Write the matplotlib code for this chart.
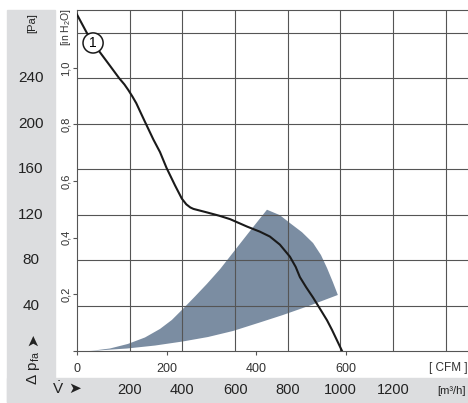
import numpy as np
import matplotlib.pyplot as plt
import matplotlib.transforms as mtransforms
from matplotlib.patches import Rectangle, Polygon

plt.rcParams['font.family'] = ['Liberation Sans', 'DejaVu Sans']
plt.rcParams['mathtext.fontset'] = 'custom'
plt.rcParams['mathtext.rm'] = 'Liberation Sans'
plt.rcParams['mathtext.it'] = 'Liberation Sans:italic'

# fan curve 1, flow in m3/h, pressure in Pa
curve_q = [0, 37, 80, 125, 160, 180, 195, 210, 225, 240, 258, 290, 315, 340,
           372, 398, 415, 430, 442, 492, 540, 581, 645, 694, 732, 770, 808,
           830, 846, 870, 896, 920, 949, 968, 1006]
curve_p = [296, 280, 265, 251, 240, 234.5, 229.5, 224, 218, 210.5, 201.6, 186,
           175, 161, 145.7, 134, 129, 126.3, 125, 122, 119, 116, 109.5, 105,
           100.7, 93.6, 83, 74, 65, 56, 47, 38, 27, 18.5, 0]

# operating range (shaded area)
zone_q = [49, 125, 193, 258, 315, 360, 402, 448, 493, 543, 592, 656, 721,
          770, 808, 854, 896, 926, 949, 971, 990,
          884, 782, 694, 592, 497, 402, 296, 190, 49]
zone_p = [0, 2.2, 6.2, 11.9, 19.4, 27.3, 37, 48, 59, 72, 86.5, 105.4, 124.3,
          119.5, 112.6, 104.5, 95, 84.4, 73, 60.7, 49.3,
          40, 31.7, 25.1, 17.6, 12.3, 8.4, 4.8, 2.2, 0]

pa_ticks = [40, 80, 120, 160, 200, 240]
pa_grid = [40, 80, 120, 160, 200, 240, 280]
inh2o_ticks = [0.2, 0.4, 0.6, 0.8, 1.0]
inh2o_labels = ['0,2', '0,4', '0,6', '0,8', '1,0']
cfm_ticks = [0, 200, 400, 600]
m3h_ticks = [200, 400, 600, 800, 1000, 1200]
m3h_grid = [200, 400, 600, 800, 1000, 1200, 1400]

PA_PER_INH2O = 249.089
M3H_PER_CFM = 1.699

W, H = 468, 403
fig = plt.figure(figsize=(W / 100, H / 100), dpi=100)


def fx(px):
    return px / W


def fy(py):
    return 1 - py / H


band = '#dcdddf'
fig.patches.append(Rectangle((fx(7), fy(402)), 48 / W, 392 / H,
                             transform=fig.transFigure, color=band, zorder=0))
fig.patches.append(Rectangle((fx(7), fy(402)), (W - 7) / W, 24 / H,
                             transform=fig.transFigure, color=band, zorder=0))

ax = fig.add_axes([fx(77), fy(351), (W - 77) / W, (351 - 10) / H])
ax.set_xlim(0, 1484)
ax.set_ylim(0, 300)
ax.patch.set_alpha(0)

gc = '#555555'
for v in m3h_grid:
    ax.axvline(v, color=gc, lw=0.8, zorder=2)
for v in pa_grid:
    ax.axhline(v, color=gc, lw=0.8, zorder=2)

ax.add_patch(Polygon(list(zip(zone_q, zone_p)), closed=True,
                     fc='#7b8da2', ec='none', zorder=1))
ax.plot(curve_q, curve_p, color='#1a1a1a', lw=1.5, zorder=4)
ax.text(61, 271, '1', fontsize=10, ha='center', va='center', zorder=5,
        bbox=dict(boxstyle='circle,pad=0.22', fc='white', ec='#1a1a1a', lw=1.1))

for s in ['left', 'bottom', 'top']:
    ax.spines[s].set_color(gc)
    ax.spines[s].set_linewidth(0.8)
ax.spines['right'].set_visible(False)

# secondary scales on the axes: in H2O on the left, CFM on the bottom
ax.set_yticks([0] + [v * PA_PER_INH2O for v in inh2o_ticks])
ax.set_yticklabels([''] + inh2o_labels, rotation=90, va='center', fontsize=8,
                   color='#333333')
ax.set_xticks([v * M3H_PER_CFM for v in cfm_ticks])
ax.set_xticklabels([str(v) for v in cfm_ticks], fontsize=9, color='#333333')
ax.tick_params(axis='both', direction='out', length=3, width=0.8, color=gc)
ax.tick_params(axis='y', pad=1.5)
ax.tick_params(axis='x', pad=6)

ax.text(1.0, -0.05, '[ CFM ]', transform=ax.transAxes, ha='right', va='center',
        fontsize=8.5, color='#333333')

# Pa labels in the left band
tr_pa = mtransforms.blended_transform_factory(fig.transFigure, ax.transData)
for v in pa_ticks:
    fig.text(fx(31), v, str(v), transform=tr_pa, ha='center', va='center',
             fontsize=11, color='#222222')

# m3/h labels in the bottom band
tr_q = mtransforms.blended_transform_factory(ax.transData, fig.transFigure)
for v in m3h_ticks:
    fig.text(v, fy(390), str(v), transform=tr_q, ha='center', va='center',
             fontsize=10.5, color='#222222')
fig.text(fx(466), fy(391), '[m³/h]', ha='right', va='center', fontsize=8,
         color='#222222')

fig.text(fx(32), fy(23), '[Pa]', rotation=90, ha='center', va='center',
         fontsize=8, color='#222222')
fig.text(fx(66), fy(27), r'[in H$_2$O]', rotation=90, ha='center', va='center',
         fontsize=7.5, color='#333333')

fig.text(fx(33), fy(368), r'Δ p$_{\mathregular{fa}}$', rotation=90, ha='center',
         va='center', fontsize=11, color='#222222')
fig.text(fx(33), fy(340), '➤', rotation=90, ha='center', va='center',
         fontsize=11, color='#222222')
fig.text(fx(58), fy(389), r'$\dot{\mathregular{V}}$', ha='center', va='center',
         fontsize=11, color='#222222')
fig.text(fx(75), fy(389), '➤', ha='center', va='center', fontsize=11,
         color='#222222')

fig.savefig('out.png', dpi=100)
